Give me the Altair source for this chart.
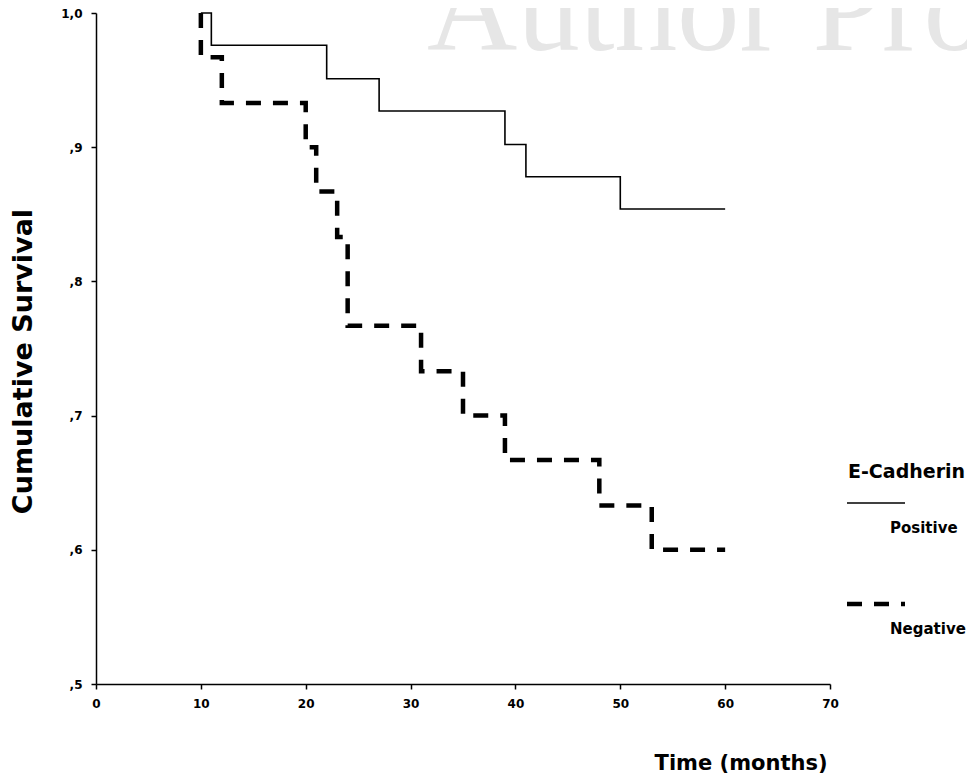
import altair as alt
import pandas as pd

# ---- data ----
pos_time = [10, 11, 22, 27, 39, 41, 50, 60]
pos_surv = [1.0, 0.976, 0.951, 0.927, 0.902, 0.878, 0.854, 0.854]

neg_time = [10, 10, 12, 20, 21, 23, 24, 31, 35, 39, 48, 53, 60]
neg_surv = [1.0, 0.967, 0.933, 0.900, 0.867, 0.833, 0.767, 0.733, 0.700, 0.667, 0.633, 0.600, 0.600]

x_ticks = [0, 10, 20, 30, 40, 50, 60, 70]
y_ticks = [0.5, 0.6, 0.7, 0.8, 0.9, 1.0]

legend_title = "E-Cadherin"
series = ["Positive", "Negative"]
watermark = "Author Pro"

df_pos = pd.DataFrame({"time": pos_time, "surv": pos_surv, "idx": range(len(pos_time))})
df_neg = pd.DataFrame({"time": neg_time, "surv": neg_surv, "idx": range(len(neg_time))})

FONT = "DejaVu Sans"

x_enc = alt.X(
    "time:Q",
    scale=alt.Scale(domain=[0, 70], nice=False, zero=False),
    axis=alt.Axis(
        values=x_ticks, tickSize=5, labelFontSize=12, labelFont=FONT,
        labelFontWeight="bold", labelPadding=9, labelFlush=False,
        labelColor="black", grid=False,
        title="Time (months)", titleFont=FONT, titleFontSize=21,
        titleFontWeight="bold", titleColor="black",
        titleX=731, titleY=85, titleAlign="right", titleBaseline="alphabetic",
    ),
)
y_enc = alt.Y(
    "surv:Q",
    scale=alt.Scale(domain=[0.5, 1.0], nice=False, zero=False),
    axis=alt.Axis(
        values=y_ticks, tickSize=5, labelFontSize=12, labelFont=FONT,
        labelFontWeight="bold", labelPadding=9, labelColor="black", grid=False,
        labelExpr="datum.value >= 0.999 ? '1,0' : ',' + round(datum.value * 10)",
        title="Cumulative Survival", titleFont=FONT, titleFontSize=27,
        titleFontWeight="bold", titleColor="black",
        titleX=-73, titleY=348, titleAngle=270, titleAlign="center",
        titleBaseline="middle",
    ),
)

one = pd.DataFrame({"t": [watermark]})

wm = alt.Chart(one).mark_text(
    font="Liberation Serif", fontSize=125, color="#e6e6e6",
    align="left", baseline="alphabetic",
).encode(text="t:N", x=alt.value(331), y=alt.value(37))

pos_line = alt.Chart(df_pos).mark_line(
    interpolate="step-after", color="black", strokeWidth=1.6,
).encode(x=x_enc, y=y_enc, order="idx:Q")

neg_line = alt.Chart(df_neg).mark_line(
    interpolate="step-after", color="black", strokeWidth=4.5,
    strokeDash=[15, 12], strokeCap="butt",
).encode(x=x_enc, y=y_enc, order="idx:Q")

leg_title = alt.Chart(pd.DataFrame({"t": [legend_title]})).mark_text(
    font=FONT, fontSize=19, fontWeight="bold", color="black",
    align="left", baseline="alphabetic",
).encode(text="t:N", x=alt.value(752), y=alt.value(465))

leg_pos_txt = alt.Chart(pd.DataFrame({"t": [series[0]]})).mark_text(
    font=FONT, fontSize=15, fontWeight="bold", color="black",
    align="left", baseline="alphabetic",
).encode(text="t:N", x=alt.value(794), y=alt.value(520))

leg_neg_txt = alt.Chart(pd.DataFrame({"t": [series[1]]})).mark_text(
    font=FONT, fontSize=15, fontWeight="bold", color="black",
    align="left", baseline="alphabetic",
).encode(text="t:N", x=alt.value(794), y=alt.value(621))

leg_pos_sym = alt.Chart(one).mark_rule(color="black", strokeWidth=1.6).encode(
    x=alt.value(751), x2=alt.value(809), y=alt.value(490)
)
leg_neg_sym = alt.Chart(one).mark_rule(
    color="black", strokeWidth=4.5, strokeDash=[15, 12], strokeCap="butt"
).encode(x=alt.value(751), x2=alt.value(809), y=alt.value(591))

chart = alt.layer(
    wm, pos_line, neg_line, leg_title, leg_pos_sym, leg_pos_txt, leg_neg_sym, leg_neg_txt
).properties(
    width=734, height=671,
    autosize=alt.AutoSizeParams(type="none"),
    padding={"left": 88, "top": 5, "right": 137, "bottom": 92},
).configure_view(stroke=None).configure_axis(
    domainColor="black", domainWidth=1.5, tickColor="black", tickWidth=1.5,
)

chart.save("out.html", embed_options={"renderer": "svg", "actions": False})
